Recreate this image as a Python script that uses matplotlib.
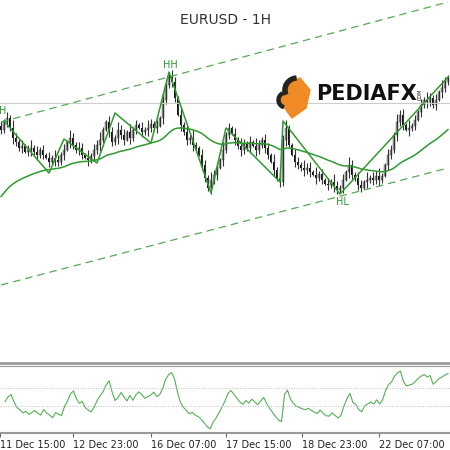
import numpy as np
import pandas as pd
import matplotlib
matplotlib.use("Agg")
import matplotlib.pyplot as plt
from matplotlib.patches import Wedge, Polygon

# hourly closes in points above 1.0000 (EURUSD)
close_pts = [970, 978, 982, 972, 962, 958, 952, 954, 948, 950,
             952, 948, 945, 950, 945, 942, 938, 942, 940, 938,
             945, 950, 958, 962, 955, 950, 952, 945, 942, 940,
             944, 950, 955, 960, 970, 978, 968, 958, 962, 970,
             965, 960, 968, 962, 970, 975, 972, 968, 970, 972,
             976, 972, 974, 982, 1000, 1015, 1024, 1018, 1002, 985,
             975, 968, 960, 962, 955, 952, 945, 935, 922, 912,
             920, 925, 932, 940, 950, 965, 972, 966, 960, 954,
             950, 956, 952, 958, 954, 950, 955, 960, 952, 945,
             938, 930, 922, 918, 960, 972, 955, 945, 938, 935,
             932, 930, 932, 928, 925, 922, 926, 920, 916, 915,
             918, 914, 910, 912, 920, 928, 935, 925, 922, 915,
             912, 918, 920, 922, 920, 924, 920, 924, 935, 945,
             950, 965, 978, 985, 975, 970, 972, 974, 980, 988,
             995, 1000, 998, 1002, 995, 1000, 1008, 1012, 1018, 1022]
wick_pts = [int(c) for c in
            "3242532413524231425324153243152435214325341523142532415324315243"
            "5214325341523142532415324315243521432534152314253241532431524352"
            "1432534152314253241532"]
pivot_idx = [1, 16, 21, 32, 38, 50, 56, 70, 75, 93, 94, 113, 149]
pivot_pts = [979, 927, 961, 937, 987, 957, 1028, 907, 972, 918, 979, 906, 1023]
upper_channel = ([0, 149], [978, 1098])
lower_channel = ([0, 149], [815, 932])
tick_idx = [-1.7, 23, 49, 74.3, 100, 125.7]
tick_labels = ["11 Dec 15:00", "12 Dec 23:00", "16 Dec 07:00",
               "17 Dec 15:00", "18 Dec 23:00", "22 Dec 07:00"]

closes = 1 + np.array(close_pts) / 10000
opens = np.r_[closes[0] + 0.0004, closes[:-1]]
wicks = np.array(wick_pts[:len(closes)]) / 10000 * 1.6
highs = np.maximum(opens, closes) + wicks
lows = np.minimum(opens, closes) - wicks * 0.8
idx = np.arange(len(closes))

# moving average, seeded from the bars before the window
ema = pd.Series(np.r_[1.0900, closes]).ewm(span=40, adjust=False).mean().values[1:]

# RSI, seeded neutral
delta = np.diff(np.r_[closes[0], closes])
gain = pd.Series(np.r_[0.0004, np.clip(delta, 0, None)]).ewm(alpha=1 / 10, adjust=False).mean()[1:]
loss = pd.Series(np.r_[0.0004, np.clip(-delta, 0, None)]).ewm(alpha=1 / 10, adjust=False).mean()[1:]
rsi = (100 - 100 / (1 + gain / loss)).values

green = "#2f9a2f"
fig = plt.figure(figsize=(4.5, 4.5), dpi=100)
ax = fig.add_axes([0, 87 / 450, 1, 363 / 450])
ax.set_xlim(-1 / 3, 449 / 3)
ax.set_ylim(1.0737, 1.11)

up = closes >= opens
ax.vlines(idx, lows, highs, color="#333333", lw=0.8)
ax.bar(idx[up], (closes - opens)[up], bottom=opens[up], width=0.8, color="#a0a0a0", edgecolor="#444444", lw=0.3)
ax.bar(idx[~up], (opens - closes)[~up], bottom=closes[~up], width=0.8, color="#111111", lw=0)

ax.axhline(1.0997, color="#cccccc", lw=0.8)
for xs, ys in (upper_channel, lower_channel):
    ax.plot(xs, 1 + np.array(ys) / 10000, color="#55aa55", lw=0.9, ls=(0, (6, 4)))
ax.plot(idx, ema, color=green, lw=1.1)
ax.plot(pivot_idx, 1 + np.array(pivot_pts) / 10000, color=green, lw=1.1)

ax.text(0.5, 1.0984, "H", color=green, fontsize=7, ha="center", va="bottom")
ax.text(56.3, 1.1030, "HH", color=green, fontsize=7, ha="center", va="bottom")
ax.text(113.7, 1.0903, "HL", color=green, fontsize=7, ha="center", va="top")
ax.text(0.5, 0.935, "EURUSD - 1H", transform=ax.transAxes, ha="center", fontsize=10, color="#333333")
ax.set_xticks([])
ax.set_yticks([])
for s in ax.spines.values():
    s.set_visible(False)
ax.spines["bottom"].set_visible(True)
ax.spines["bottom"].set_color("#999999")
ax.spines["bottom"].set_linewidth(2)

# logo
lg = fig.add_axes([270 / 450, 1 - 130 / 450, 160 / 450, 70 / 450])
lg.set_xlim(0, 160)
lg.set_ylim(0, 70)
lg.set_aspect("equal")
lg.axis("off")
lg.add_patch(Polygon([[22, 12], [10, 28], [14, 46], [30, 52], [40, 40], [36, 22]], color="#f08a24"))
lg.add_patch(Wedge((27, 40), 14, 95, 200, width=4, color="#222222"))
lg.add_patch(Wedge((16, 30), 9, 120, 250, width=3, color="#222222"))
lg.text(46, 36, "PEDIAFX", fontsize=15, fontweight="bold", color="#111111", va="center")
lg.text(148, 36, "COM", fontsize=3.5, color="#111111", rotation=90, va="center")

rx = fig.add_axes([0, 17 / 450, 1, 67 / 450])
rx.set_xlim(-1 / 3, 449 / 3)
rx.set_ylim(15, 90)
rx.plot(idx, rsi, color="#55b055", lw=0.8)
rx.axhline(65, color="#bbbbbb", lw=0.7, ls=":")
rx.axhline(45, color="#bbbbbb", lw=0.7, ls=":")
rx.set_yticks([])
rx.set_xticks(tick_idx)
rx.set_xticklabels(tick_labels, fontsize=7, ha="left", color="#222222")
rx.tick_params(axis="x", length=3, pad=2, color="#666666")
for k in ("left", "right"):
    rx.spines[k].set_visible(False)
rx.spines["top"].set_color("#999999")
rx.spines["bottom"].set_color("#999999")
rx.spines["bottom"].set_linewidth(1.5)

fig.savefig("out.png", dpi=100)
